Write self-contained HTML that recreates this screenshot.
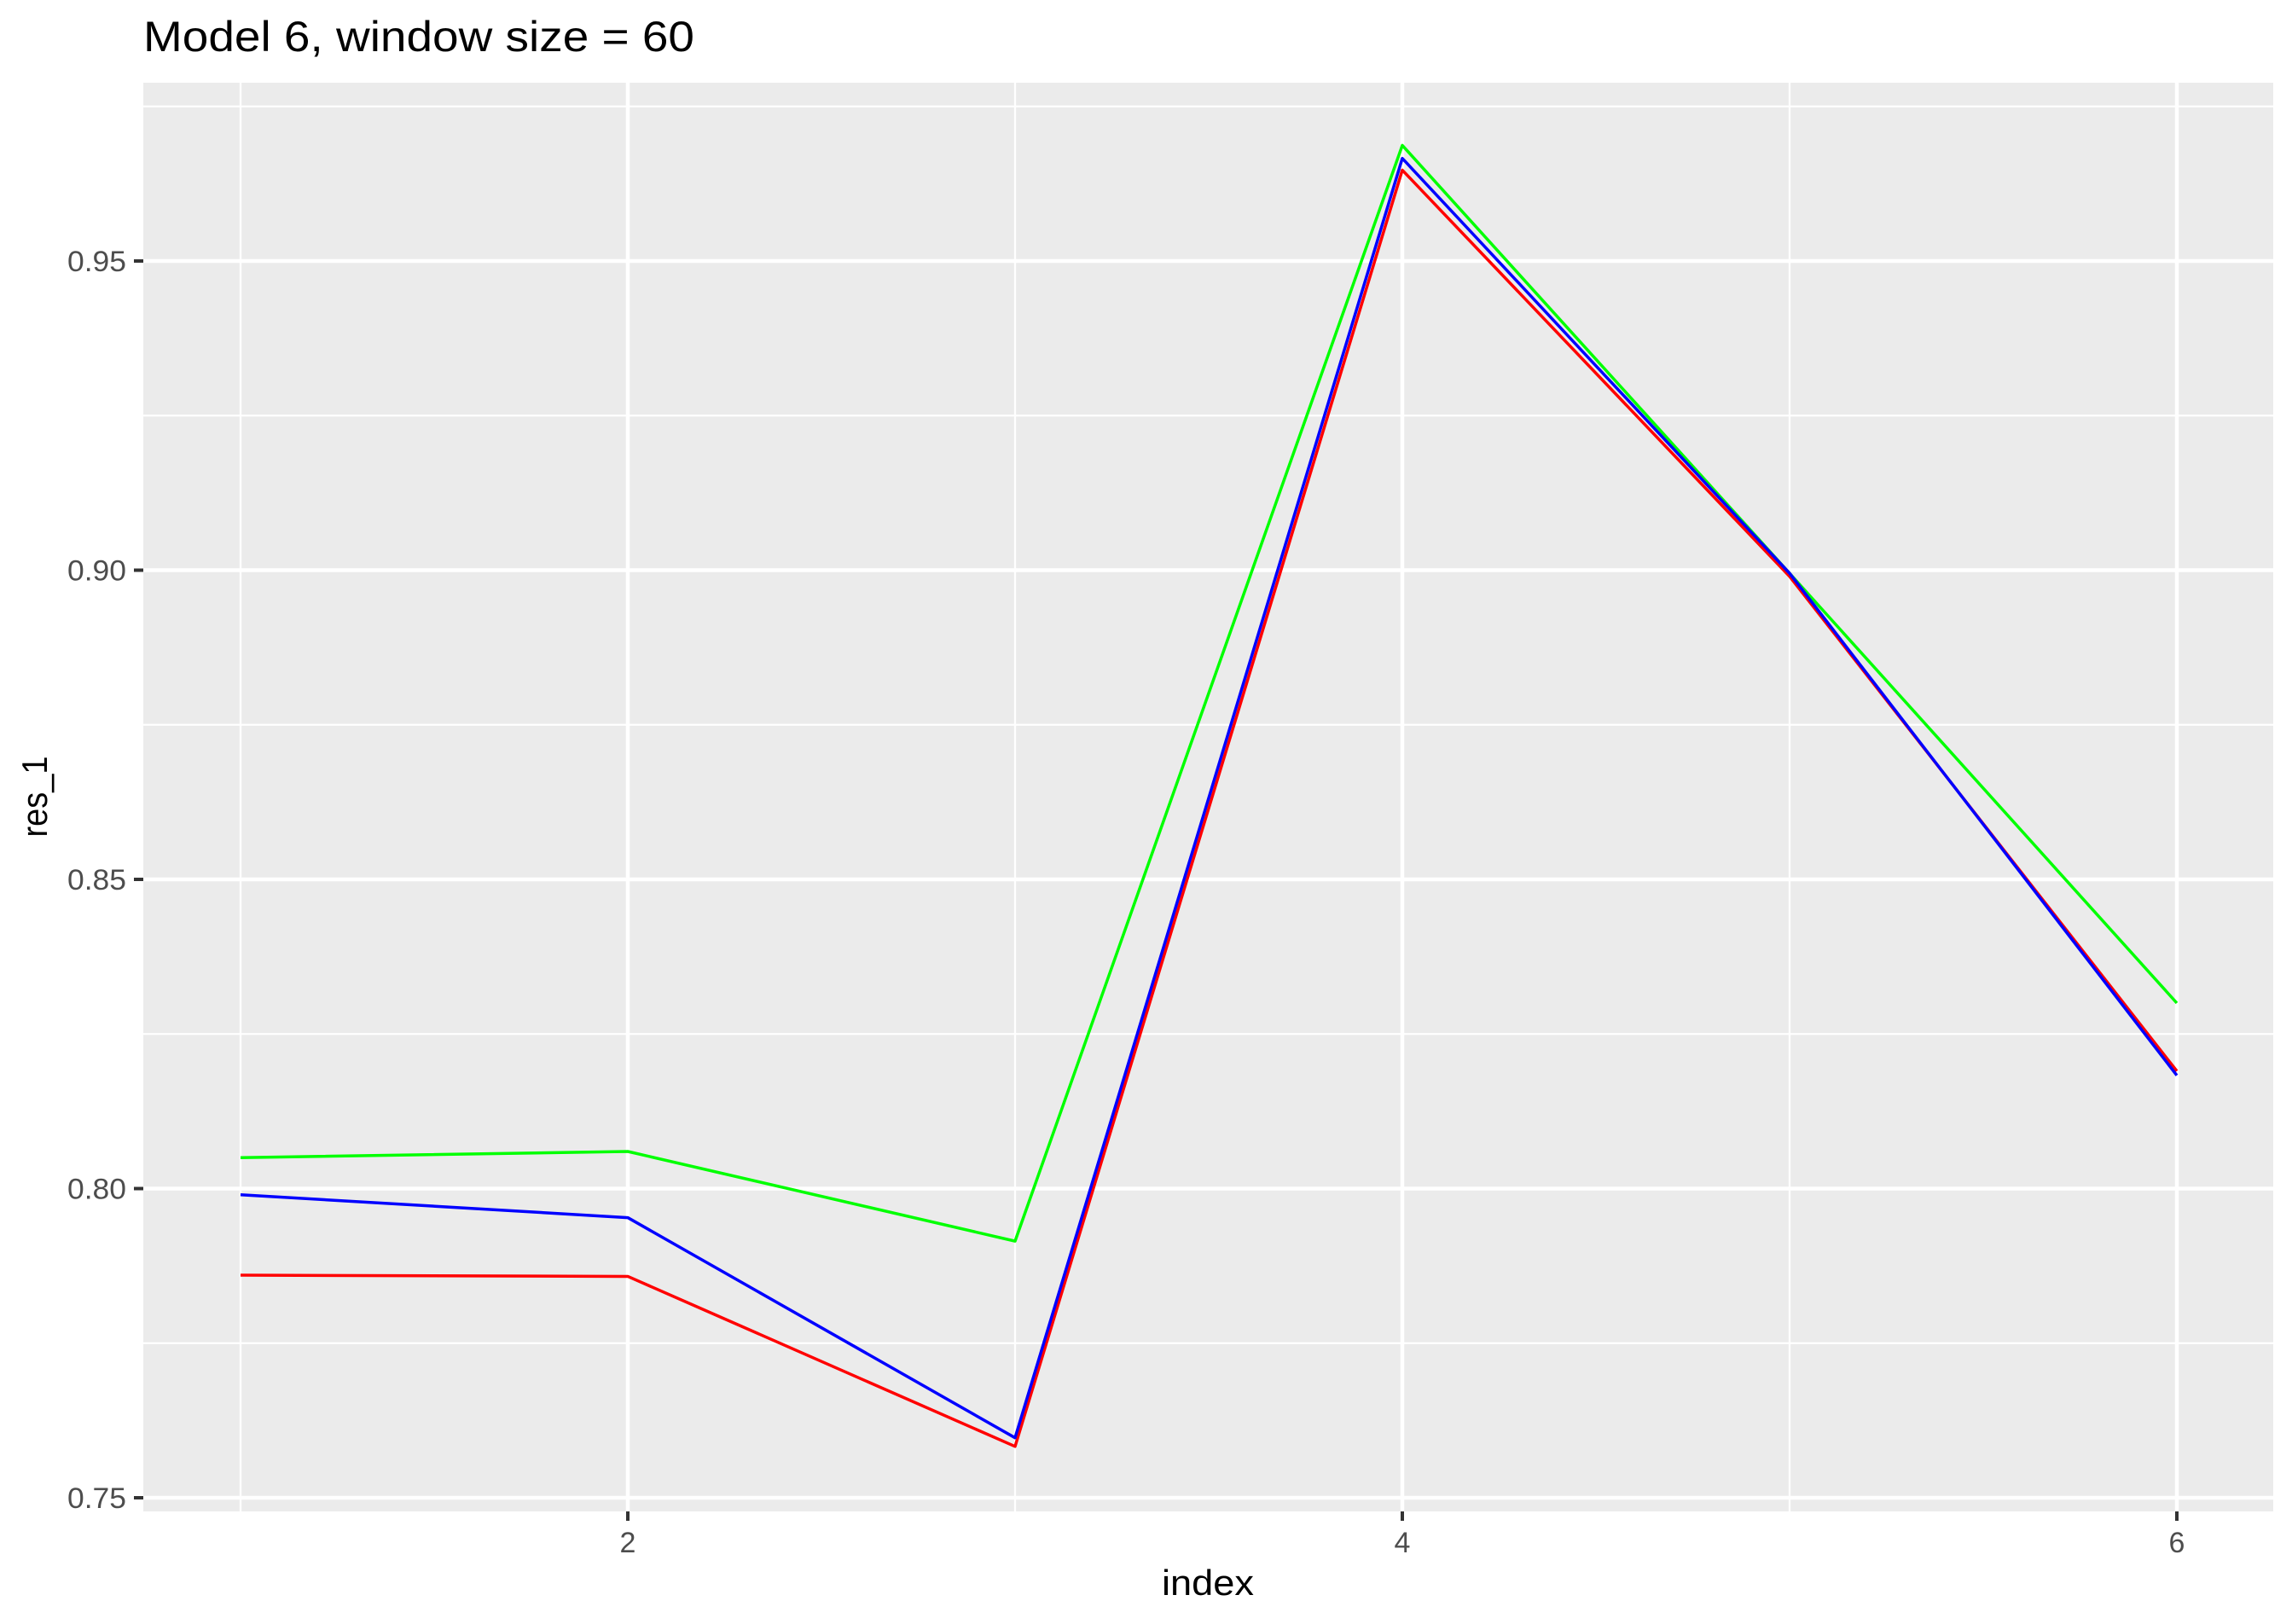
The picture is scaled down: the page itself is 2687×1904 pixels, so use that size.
<!DOCTYPE html>
<html><head><meta charset="utf-8"><style>
html,body{margin:0;padding:0;background:#fff;}
svg{display:block;font-family:"Liberation Sans",Arial,sans-serif;}
</style></head><body>
<svg id="chart" width="2687" height="1904" viewBox="0 0 2687 1904">
<text x="168" y="60" font-size="50" textLength="646" lengthAdjust="spacingAndGlyphs" fill="#000">Model 6, window size = 60</text>
<rect x="168" y="97" width="2497" height="1675" fill="#ebebeb"/>
<g id="grid"></g>
<g id="axes"></g>
<g id="series"></g>
<text x="1416" y="1870" font-size="42" textLength="108" lengthAdjust="spacingAndGlyphs" text-anchor="middle" fill="#000">index</text>
<text transform="translate(55,934) rotate(-90)" font-size="42" textLength="95" lengthAdjust="spacingAndGlyphs" text-anchor="middle" fill="#000">res_1</text>
</svg>
<script>
const indices=[1,2,3,4,5,6];
const greenVals=[0.805,0.806,0.7915,0.9687,0.8995,0.830];
const blueVals=[0.799,0.7953,0.7597,0.9666,0.8995,0.8183];
const redVals=[0.786,0.7858,0.7583,0.9647,0.899,0.819];
const yTicks=[0.75,0.80,0.85,0.90,0.95];
const yTickLabels=["0.75","0.80","0.85","0.90","0.95"];
const xTicks=[2,4,6];
const xTickLabels=["2","4","6"];

const NS="http://www.w3.org/2000/svg";
function xs(v){return 282+(v-1)*454;}
function ys(v){return 306+(0.95-v)*7250;}
function mk(tag,attrs,parent){const e=document.createElementNS(NS,tag);for(const k in attrs)e.setAttribute(k,attrs[k]);parent.appendChild(e);return e;}
const grid=document.getElementById('grid'),axes=document.getElementById('axes'),series=document.getElementById('series');
for(let i=0;i<yTicks.length-1;i++){const v=(yTicks[i]+yTicks[i+1])/2;
 const l=mk('line',{x1:168,x2:2665,y1:ys(v),y2:ys(v),stroke:'#fff','stroke-width':2.3},grid);
 
 }
{const v=yTicks[yTicks.length-1]+0.025;
 const l=mk('line',{x1:168,x2:2665,y1:ys(v),y2:ys(v),stroke:'#fff','stroke-width':2.3},grid);
 
 }
[1,3,5].forEach(v=>{const l=mk('line',{x1:xs(v),x2:xs(v),y1:97,y2:1772,stroke:'#fff','stroke-width':2.3},grid);
 
 });
yTicks.forEach((v,i)=>{
 const l=mk('line',{x1:168,x2:2665,y1:ys(v),y2:ys(v),stroke:'#fff','stroke-width':4.5},grid);
 
 
 const t=mk('line',{x1:157,x2:168,y1:ys(v),y2:ys(v),stroke:'#333','stroke-width':4},axes);
 
 
 const tx=mk('text',{x:148,y:ys(v)+12,'font-size':34,'text-anchor':'end',fill:'#4d4d4d',textLength:69,lengthAdjust:'spacingAndGlyphs'},axes);
 tx.textContent=yTickLabels[i];
 
 
});
xTicks.forEach((v,i)=>{
 const l=mk('line',{x1:xs(v),x2:xs(v),y1:97,y2:1772,stroke:'#fff','stroke-width':4.5},grid);
 
 
 const t=mk('line',{x1:xs(v),x2:xs(v),y1:1772,y2:1783,stroke:'#333','stroke-width':4},axes);
 
 
 const tx=mk('text',{x:xs(v),y:1820,'font-size':34,'text-anchor':'middle',fill:'#4d4d4d'},axes);
 tx.textContent=xTickLabels[i];
 
 
});
function drawLine(vals,color,name){
 const pts=indices.map((x,i)=>xs(x)+','+ys(vals[i])).join(' ');
 const p=mk('polyline',{points:pts,fill:'none',stroke:color,'stroke-width':3.5,'stroke-linejoin':'round'},series);
 
 
}
drawLine(greenVals,'#00ff00','green-series-line');
drawLine(redVals,'#ff0000','red-series-line');
drawLine(blueVals,'#0000ff','blue-series-line');
</script>
</body></html>
